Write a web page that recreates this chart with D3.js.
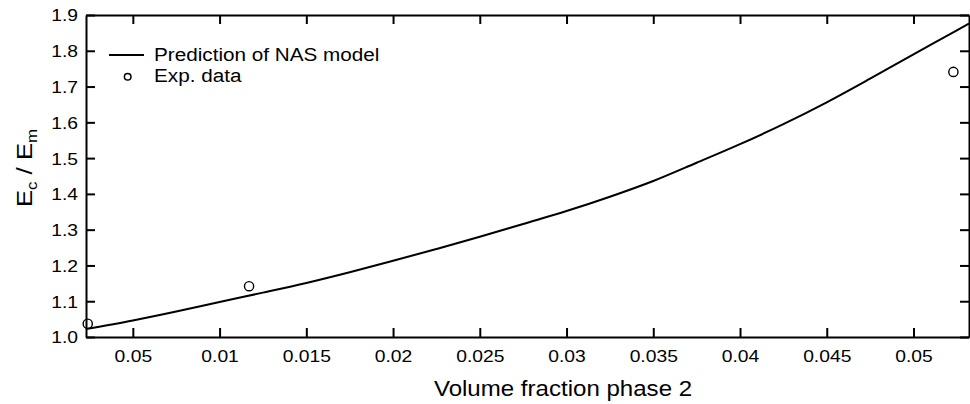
<!DOCTYPE html>
<html>
<head>
<meta charset="utf-8">
<script src="https://cdn.jsdelivr.net/npm/d3@7"></script>
<style>
  html, body { margin: 0; padding: 0; background: #fff; }
  svg text { font-family: "Liberation Sans", Arial, sans-serif; fill: #000; }
</style>
</head>
<body>
<div id="chart"></div>
<script>
// data
const xTicks = [0.005, 0.01, 0.015, 0.02, 0.025, 0.03, 0.035, 0.04, 0.045, 0.05];
const xTickLabels = ["0.05", "0.01", "0.015", "0.02", "0.025", "0.03", "0.035", "0.04", "0.045", "0.05"];
const yTicks = [1.0, 1.1, 1.2, 1.3, 1.4, 1.5, 1.6, 1.7, 1.8, 1.9];

// NAS model curve
const modelX = [0.0023, 0.005, 0.0075, 0.01, 0.0125, 0.015, 0.0175, 0.02, 0.0225, 0.025, 0.0275,
                0.03, 0.0325, 0.035, 0.0375, 0.04, 0.0425, 0.045, 0.0475, 0.05, 0.0525, 0.0532];
const modelY = [1.022, 1.046, 1.071, 1.098, 1.124, 1.151, 1.181, 1.213, 1.246, 1.280, 1.316,
                1.352, 1.392, 1.436, 1.487, 1.539, 1.595, 1.656, 1.722, 1.790, 1.857, 1.876];

// experimental points
const expX = [0.0024, 0.0117, 0.0523];
const expY = [1.037, 1.142, 1.741];

const legendLabels = ["Prediction of NAS model", "Exp. data"];

const W = 970, H = 404;
const margin = {top: 15, right: 1, bottom: 67, left: 86};
const iw = W - margin.left - margin.right;
const ih = H - margin.top - margin.bottom;
const SX = 1.17; // the source text is a bit wide

const svg = d3.select("#chart").append("svg")
    .attr("width", W)
    .attr("height", H);

const g = svg.append("g")
    .attr("transform", `translate(${margin.left},${margin.top})`);

const x = d3.scaleLinear().domain([0.0023, 0.0532]).range([0, iw]);
const y = d3.scaleLinear().domain([1.0, 1.9]).range([ih, 0]);

// axes, ticks pointing inward
const gx = g.append("g")
    .attr("transform", `translate(0,${ih})`)
    .call(d3.axisBottom(x).tickValues(xTicks)
        .tickFormat((d, i) => xTickLabels[i])
        .tickSizeInner(-9).tickSizeOuter(0));
gx.selectAll("text")
    .attr("y", 25).attr("dy", null)
    .attr("transform", `scale(${SX},1)`)
    .style("font-size", "16.5px");

const gy = g.append("g")
    .call(d3.axisLeft(y).tickValues(yTicks)
        .tickFormat(d3.format(".1f"))
        .tickSizeInner(-9).tickSizeOuter(0));
gy.selectAll("text")
    .attr("x", -8 / SX).attr("dy", "0.36em")
    .attr("transform", `scale(${SX},1)`)
    .style("font-size", "16.5px");

g.append("g")
    .call(d3.axisTop(x).tickValues(xTicks).tickFormat("")
        .tickSizeInner(-9).tickSizeOuter(0));

g.append("g")
    .attr("transform", `translate(${iw},0)`)
    .call(d3.axisRight(y).tickValues(yTicks).tickFormat("")
        .tickSizeInner(-9).tickSizeOuter(0));

g.selectAll(".domain").attr("stroke", "#000").attr("stroke-width", 2);
g.selectAll(".tick line").attr("stroke", "#000").attr("stroke-width", 2);

// model line
const line = d3.line()
    .x((d, i) => x(modelX[i]))
    .y(d => y(d))
    .curve(d3.curveMonotoneX);

g.append("path")
    .datum(modelY)
    .attr("fill", "none")
    .attr("stroke", "#000")
    .attr("stroke-width", 2)
    .attr("d", line);

// exp points
g.selectAll(".pt")
    .data(expY)
    .enter()
    .append("circle")
    .attr("class", "pt")
    .attr("cx", (d, i) => x(expX[i]))
    .attr("cy", d => y(d))
    .attr("r", 4.6)
    .attr("fill", "none")
    .attr("stroke", "#000")
    .attr("stroke-width", 1.4);

// legend
const lg = svg.append("g");
lg.append("line")
    .attr("x1", 109).attr("x2", 144)
    .attr("y1", 55).attr("y2", 55)
    .attr("stroke", "#000").attr("stroke-width", 2);
lg.append("circle")
    .attr("cx", 127.7).attr("cy", 76.7).attr("r", 3.3)
    .attr("fill", "none").attr("stroke", "#000").attr("stroke-width", 1.5);
lg.selectAll(".lt")
    .data(legendLabels)
    .enter()
    .append("text")
    .attr("class", "lt")
    .attr("transform", (d, i) => `translate(154,${i === 0 ? 61 : 82}) scale(1.09,1)`)
    .style("font-size", "19px")
    .text(d => d);

// axis titles
svg.append("text")
    .attr("transform", `translate(563,396) scale(1.12,1)`)
    .attr("text-anchor", "middle")
    .style("font-size", "21.5px")
    .text("Volume fraction phase 2");

const yt = svg.append("text")
    .attr("transform", `translate(32,168) rotate(-90) scale(1.12,1)`)
    .attr("text-anchor", "middle")
    .style("font-size", "23px");
yt.append("tspan").text("E");
yt.append("tspan").attr("dy", 5).style("font-size", "15px").text("c");
yt.append("tspan").attr("dy", -5).text(" / E");
yt.append("tspan").attr("dy", 5).style("font-size", "15px").text("m");
</script>
</body>
</html>
